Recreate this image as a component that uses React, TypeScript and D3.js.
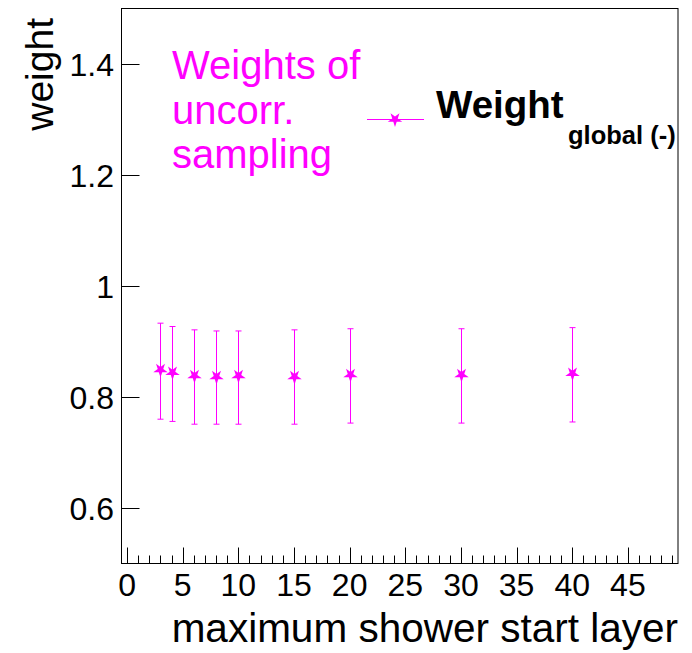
import React from "react";
import * as d3 from "d3";

const layers = [3, 4, 6, 8, 10, 15, 20, 30, 40];
const weights = [0.849, 0.844, 0.838, 0.836, 0.838, 0.836, 0.84, 0.84, 0.842];
const errUp = [0.933, 0.927, 0.921, 0.919, 0.919, 0.921, 0.923, 0.923, 0.925];
const errDown = [0.76, 0.756, 0.751, 0.751, 0.751, 0.751, 0.753, 0.753, 0.755];
const xMajorTicks = [0, 5, 10, 15, 20, 25, 30, 35, 40, 45];
const yMajorTicks = [0.6, 0.8, 1.0, 1.2, 1.4];
const annotationLines = ["Weights of", "uncorr.", "sampling"];

const W = 692;
const H = 653;
const L = 121.5;
const R = 678;
const T = 8.5;
const B = 563.5;
const MAG = "#ff00ff";
const FONT = "'Liberation Sans', Arial, Helvetica, sans-serif";

export default function App() {
  const x = d3.scaleLinear().domain([-0.5, 49.5]).range([L, R]);
  const y = d3.scaleLinear().domain([0.5, 1.5]).range([B, T]);
  const minorX = d3.range(0, 50);
  const star = d3.symbol().type(d3.symbolStar).size(65)();
  const fmtY = (v: number) => (v === 1 ? "1" : d3.format(".1f")(v));

  return (
    <svg
      width={W}
      height={H}
      style={{ position: "absolute", left: 0, top: 0, background: "#fff" }}
      fontFamily={FONT}
    >
      <rect x={0} y={0} width={W} height={H} fill="#fff" />
      {/* frame */}
      <rect x={L} y={T} width={R - L} height={B - T} fill="none" stroke="#000" strokeWidth={1} />
      {/* x ticks */}
      {minorX.map((v) => {
        const major = v % 5 === 0;
        return (
          <line
            key={"xt" + v}
            x1={Math.round(x(v)) + 0.5}
            x2={Math.round(x(v)) + 0.5}
            y1={B}
            y2={B - (major ? 16 : 8)}
            stroke="#000"
            strokeWidth={1}
          />
        );
      })}
      {xMajorTicks.map((v) => (
        <text key={"xl" + v} x={x(v)} y={596} fontSize={32} textAnchor="middle" fill="#000">
          {v}
        </text>
      ))}
      {/* y ticks */}
      {yMajorTicks.map((v) => (
        <g key={"yt" + v}>
          <line
            x1={L}
            x2={L + 18}
            y1={Math.round(y(v)) + 0.5}
            y2={Math.round(y(v)) + 0.5}
            stroke="#000"
            strokeWidth={1}
          />
          <text x={114} y={y(v) + 12} fontSize={32} textAnchor="end" fill="#000">
            {fmtY(v)}
          </text>
        </g>
      ))}
      {/* axis titles */}
      <text x={R} y={642} fontSize={40.5} textAnchor="end" fill="#000">
        maximum shower start layer
      </text>
      <text
        transform={`translate(53,18) rotate(-90)`}
        fontSize={39}
        textAnchor="end"
        fill="#000"
      >
        weight
      </text>
      {/* data */}
      {layers.map((l, i) => {
        const cx = Math.round(x(l)) + 0.5;
        return (
          <g key={"p" + l}>
            <line x1={cx} x2={cx} y1={y(errUp[i])} y2={y(errDown[i])} stroke={MAG} strokeWidth={1} />
            <line x1={cx - 3} x2={cx + 3} y1={y(errUp[i])} y2={y(errUp[i])} stroke={MAG} strokeWidth={1} />
            <line x1={cx - 3} x2={cx + 3} y1={y(errDown[i])} y2={y(errDown[i])} stroke={MAG} strokeWidth={1} />
            <path d={star!} transform={`translate(${cx},${y(weights[i])}) rotate(180)`} fill={MAG} />
          </g>
        );
      })}
      {/* annotation */}
      {annotationLines.map((s, i) => (
        <text key={"a" + i} x={172} y={79 + i * 44.5} fontSize={40} fill={MAG}>
          {s}
        </text>
      ))}
      {/* legend */}
      <line x1={367} x2={424} y1={119.5} y2={119.5} stroke={MAG} strokeWidth={1} />
      <path d={star!} transform={`translate(395,119.5) rotate(180)`} fill={MAG} />
      <text x={436} y={118} fontSize={38.5} fontWeight="bold" fill="#000">
        Weight
      </text>
      <text x={568} y={144} fontSize={25.5} fontWeight="bold" fill="#000">
        global (-)
      </text>
    </svg>
  );
}
